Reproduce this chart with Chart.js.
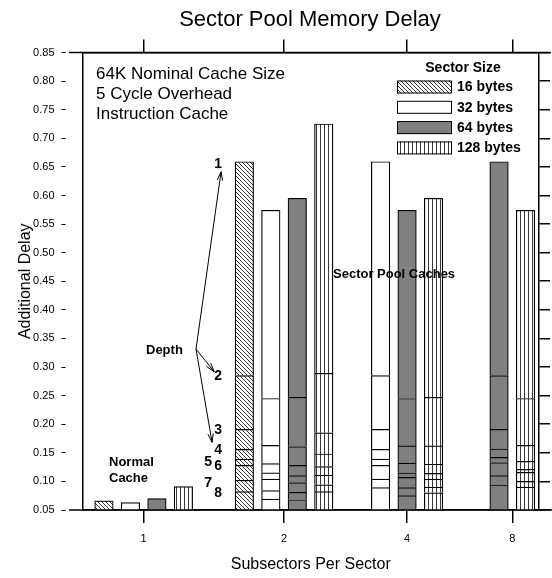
<!DOCTYPE html>
<html>
<head>
<meta charset="utf-8">
<script src="https://cdn.jsdelivr.net/npm/chart.js@4.4.0/dist/chart.umd.min.js"></script>
<style>
  html, body { margin: 0; padding: 0; background: #fff; }
  #wrap { width: 552px; height: 578px; }
</style>
</head>
<body>
<div id="wrap"><canvas id="chart"></canvas></div>
<script>
const subsectors = ['1', '2', '4', '8'];
const sectorSizes = ['16 bytes', '32 bytes', '64 bytes', '128 bytes'];
const depths = [1, 2, 3, 4, 5, 6, 7, 8];
const yTicks = [0.05, 0.10, 0.15, 0.20, 0.25, 0.30, 0.35, 0.40, 0.45,
                0.50, 0.55, 0.60, 0.65, 0.70, 0.75, 0.80, 0.85];

// normal cache (1 subsector), one bar per sector size
const normalDelay = [0.066, 0.063, 0.070, 0.091];

// sector pool caches: delay reached at depth 1..8
const pool2x16  = [0.659, 0.285, 0.191, 0.156, 0.139, 0.128, 0.102, 0.082];
const pool2x32  = [0.574, 0.245, 0.163, 0.131, 0.115, 0.104, 0.084, 0.069];
const pool2x64  = [0.595, 0.247, 0.161, 0.128, 0.110, 0.098, 0.081, 0.068];
const pool2x128 = [0.725, 0.289, 0.185, 0.148, 0.126, 0.111, 0.094, 0.082];
const pool4x32  = [0.659, 0.285, 0.191, 0.156, 0.139, 0.128, 0.104, 0.089];
const pool4x64  = [0.574, 0.245, 0.162, 0.132, 0.115, 0.107, 0.089, 0.075];
const pool4x128 = [0.595, 0.247, 0.162, 0.130, 0.114, 0.104, 0.090, 0.080];
const pool8x64  = [0.659, 0.285, 0.191, 0.157, 0.142, 0.133, 0.110, 0.094];
const pool8x128 = [0.574, 0.245, 0.163, 0.135, 0.121, 0.116, 0.100, 0.090];

// rows: subsectors 2, 4, 8 ; columns: sector sizes
const poolTable = [
  [pool2x16, pool2x32, pool2x64, pool2x128],
  [null, pool4x32, pool4x64, pool4x128],
  [null, null, pool8x64, pool8x128]
];

// where each subsector group sits along the (non uniform) x axis, 0..100
const groupPos = [13.4, 44.15, 71.1, 94.15];
const slotWidth = 5.8;

function makePattern(kind) {
  const c = document.createElement('canvas');
  c.width = 4; c.height = 4;
  const g = c.getContext('2d');
  g.fillStyle = '#fff';
  g.fillRect(0, 0, 4, 4);
  g.strokeStyle = '#222';
  g.lineWidth = 0.9;
  g.beginPath();
  if (kind === 'hatch') {
    g.moveTo(-1, -1); g.lineTo(5, 5);
    g.moveTo(-1, 3); g.lineTo(1, 5);
    g.moveTo(3, -1); g.lineTo(5, 1);
  } else {
    g.moveTo(0.5, 0); g.lineTo(0.5, 4);
  }
  g.stroke();
  return g.createPattern(c, 'repeat');
}

const fills = [makePattern('hatch'), '#ffffff', '#808080', makePattern('vert')];

// bars per group: which sector sizes are present
function barsInGroup(gi) {
  if (gi === 0) return normalDelay.map((v, si) => si);
  return poolTable[gi - 1].map((a, si) => a ? si : -1).filter(si => si >= 0);
}

function slotX(gi, si) {
  const present = barsInGroup(gi);
  const k = present.indexOf(si);
  return groupPos[gi] + (k - (present.length - 1) / 2) * slotWidth;
}

const datasets = [];
sectorSizes.forEach((size, si) => {
  for (let d = depths.length - 1; d >= 0; d--) {
    const points = [];
    if (d === depths.length - 1) {
      points.push({ x: slotX(0, si), y: normalDelay[si] });
    }
    poolTable.forEach((row, ri) => {
      const vals = row[si];
      if (!vals) return;
      const below = d + 1 < vals.length ? vals[d + 1] : 0;
      points.push({ x: slotX(ri + 1, si), y: vals[d] - below });
    });
    datasets.push({
      label: size + ' depth ' + depths[d],
      stack: size,
      data: points,
      backgroundColor: fills[si],
      borderColor: '#000',
      borderWidth: 1.2
    });
  }
});

const FONT = '"Liberation Sans", Arial, Helvetica, sans-serif';

const annotations = {
  id: 'annotations',
  afterDraw(chart) {
    const ctx = chart.ctx;
    const y = chart.scales.y;
    const area = chart.chartArea;
    ctx.save();
    ctx.fillStyle = '#000';
    ctx.strokeStyle = '#000';

    // top and bottom frame lines run past the side axes
    ctx.lineWidth = 1.5;
    ctx.beginPath();
    ctx.moveTo(69, area.top); ctx.lineTo(551, area.top);
    ctx.moveTo(69, area.bottom); ctx.lineTo(552, area.bottom);
    ctx.stroke();

    ctx.textBaseline = 'middle';
    ctx.textAlign = 'center';
    ctx.font = '22px ' + FONT;
    ctx.fillText('Sector Pool Memory Delay', 310, 20);

    ctx.textAlign = 'left';
    ctx.font = '17px ' + FONT;
    ctx.fillText('64K Nominal Cache Size', 96, 74);
    ctx.fillText('5 Cycle Overhead', 96, 94);
    ctx.fillText('Instruction Cache', 96, 114);

    ctx.font = 'bold 13px ' + FONT;
    ctx.fillText('Normal', 109, 462);
    ctx.fillText('Cache', 109, 478);
    ctx.fillText('Sector Pool Caches', 333, 274);
    ctx.fillText('Depth', 146, 350);

    // depth labels beside the 16 byte, 2 subsector bar (top segment = depth 1)
    const bar = chart.getDatasetMeta(depths.length - 1).data[0];
    const left = bar.x - bar.width / 2;
    ctx.font = 'bold 14px ' + FONT;
    ctx.textAlign = 'right';
    const labelY = [];
    pool2x16.forEach((v, i) => {
      const py = y.getPixelForValue(v) + (i === 0 ? 2 : 1);
      const shifted = depths[i] === 5 || depths[i] === 7;
      const px = left - (shifted ? 23 : 13);
      labelY.push(py);
      ctx.fillText(String(depths[i]), px, shifted ? py + 2 : py);
    });

    // arrows from "Depth"
    const ox = 196, oy = 349;
    const tips = [[left - 14, labelY[0] + 8], [left - 21, labelY[1] - 5], [left - 23, labelY[2] + 12]];
    ctx.lineWidth = 1;
    tips.forEach(([tx, ty]) => {
      ctx.beginPath();
      ctx.moveTo(ox, oy); ctx.lineTo(tx, ty);
      const a = Math.atan2(ty - oy, tx - ox);
      ctx.moveTo(tx - 9 * Math.cos(a - 0.3), ty - 9 * Math.sin(a - 0.3));
      ctx.lineTo(tx, ty);
      ctx.lineTo(tx - 9 * Math.cos(a + 0.3), ty - 9 * Math.sin(a + 0.3));
      ctx.stroke();
    });

    // legend
    ctx.textAlign = 'center';
    ctx.font = 'bold 14px ' + FONT;
    ctx.fillText('Sector Size', 463, 68);
    ctx.textAlign = 'left';
    sectorSizes.forEach((s, si) => {
      const ty = 80.5 + si * 20.3;
      ctx.fillStyle = fills[si];
      ctx.fillRect(397, ty, 55, 13);
      ctx.strokeStyle = '#000';
      ctx.lineWidth = 1;
      ctx.strokeRect(397.5, ty + 0.5, 54, 12);
      ctx.fillStyle = '#000';
      ctx.fillText(s, 457, ty + 7);
    });
    ctx.restore();
  }
};

const tickAxis = {
  type: 'linear',
  min: 0,
  max: 100,
  offset: false,
  afterBuildTicks: s => { s.ticks = groupPos.map(v => ({ value: v })); },
  grid: { offset: false, drawOnChartArea: false, tickLength: 13, color: '#000', lineWidth: 1.5 },
  border: { color: '#000', width: 1.5 }
};

const valueAxis = {
  type: 'linear',
  min: 0.05,
  max: 0.85,
  afterBuildTicks: s => { s.ticks = yTicks.map(v => ({ value: v })); },
  border: { color: '#000', width: 1.5 }
};

new Chart(document.getElementById('chart'), {
  type: 'bar',
  data: { datasets },
  options: {
    responsive: true,
    maintainAspectRatio: false,
    animation: false,
    grouped: false,
    barThickness: 18.5,
    layout: { padding: 0 },
    plugins: { legend: { display: false }, tooltip: { enabled: false } },
    scales: {
      x: {
        ...tickAxis,
        position: 'bottom',
        ticks: {
          autoSkip: false, maxRotation: 0, padding: 9,
          color: '#000', font: { family: FONT, size: 11 },
          callback: (v, i) => subsectors[i]
        },
        title: {
          display: true, text: 'Subsectors Per Sector', color: '#000',
          font: { family: FONT, size: 16 }, padding: { top: 0, bottom: 4 }
        },
        afterFit: s => { s.height = 68; }
      },
      xTop: {
        ...tickAxis,
        position: 'top',
        ticks: { display: false },
        afterFit: s => { s.height = 52.5; }
      },
      y: {
        ...valueAxis,
        position: 'left',
        stacked: true,
        ticks: {
          color: '#000', font: { family: FONT, size: 11 }, padding: 7,
          callback: v => v.toFixed(2)
        },
        grid: {
          drawOnChartArea: false, tickLength: 21, color: '#000', lineWidth: 1,
          tickBorderDash: [4, 40]
        },
        title: {
          display: true, text: 'Additional Delay', color: '#000',
          font: { family: FONT, size: 16 }, padding: { top: 16, bottom: 0 }
        },
        afterFit: s => { s.width = 82.5; }
      },
      yRight: {
        ...valueAxis,
        position: 'right',
        ticks: { display: false },
        grid: { drawOnChartArea: false, tickLength: 11, color: '#000', lineWidth: 1.5 },
        afterFit: s => { s.width = 13; }
      }
    }
  },
  plugins: [annotations]
});
</script>
</body>
</html>
